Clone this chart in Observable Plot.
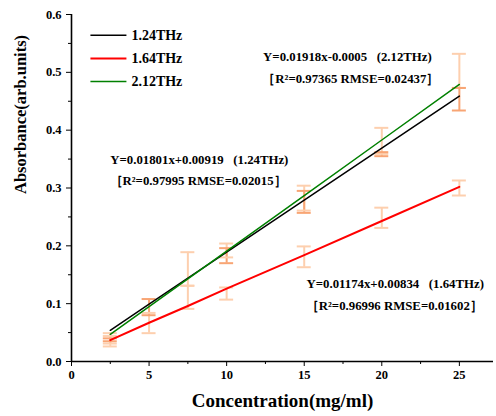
<!DOCTYPE html>
<html><head><meta charset="utf-8">
<script src="https://cdn.jsdelivr.net/npm/d3@7"></script>
<script src="https://cdn.jsdelivr.net/npm/@observablehq/plot@0.6"></script>
<style>
body{margin:0;background:#fff;}
svg{white-space:pre;}
</style></head><body><div id="chart"></div>
<script>
const concentration = [2.5, 5, 7.5, 10, 15, 20, 25];
const fit124 = [0.054, 0.099, 0.144, 0.189, 0.279, 0.369, 0.459];
const fit164 = [0.037, 0.067, 0.096, 0.126, 0.184, 0.243, 0.302];
const fit212 = [0.047, 0.095, 0.143, 0.191, 0.287, 0.383, 0.479];
const seriesNames = ["1.24THz", "1.64THz", "2.12THz"];
const seriesColors = ["#000000", "#ff0000", "#008000"];
const seriesWidths = [1.5, 2, 1.5];

// error bars: x, low, high, tone
const errX  = [2.5, 2.5, 2.5, 5, 5, 7.5, 7.5, 10, 10, 10, 15, 15, 15, 20, 20, 20, 25, 25, 25];
const errLo = [0.031, 0.026, 0.035, 0.049, 0.080, 0.131, 0.091, 0.180, 0.170, 0.107, 0.261, 0.257, 0.163, 0.359, 0.355, 0.231, 0.473, 0.434, 0.287];
const errHi = [0.049, 0.044, 0.040, 0.084, 0.108, 0.189, 0.131, 0.204, 0.196, 0.128, 0.304, 0.295, 0.199, 0.404, 0.362, 0.266, 0.532, 0.473, 0.313];
const errTone = ["light","light","dark","light","dark","light","light","light","dark","light","light","dark","light","light","dark","light","light","dark","light"];

const xTicks = [0, 5, 10, 15, 20, 25];
const xMinor = [2.5, 7.5, 12.5, 17.5, 22.5];
const yTicks = [0, 0.1, 0.2, 0.3, 0.4, 0.5, 0.6];
const yMinor = [0.05, 0.15, 0.25, 0.35, 0.45, 0.55];

const annoText = [
  "Y=0.01918x-0.0005   (2.12THz)", "［R²=0.97365 RMSE=0.02437］",
  "Y=0.01801x+0.00919   (1.24THz)", "［R²=0.97995 RMSE=0.02015］",
  "Y=0.01174x+0.00834   (1.64THz)", "［R²=0.96996 RMSE=0.01602］"
];
const annoX = [12.35, 12.3, 2.5, 2.45, 15.15, 15.1];
const annoY = [0.526, 0.488, 0.348, 0.313, 0.135, 0.097];

const legendY = [0.564, 0.524, 0.484];
const legendX1 = 1.22, legendX2 = 3.54, legendTextX = 3.86;

const lines = [];
[fit124, fit164, fit212].forEach((vals, s) => vals.forEach((v, i) => lines.push({series: seriesNames[s], x: concentration[i], y: v})));
const errs = errX.map((x, i) => ({x, lo: errLo[i], hi: errHi[i], tone: errTone[i]}));
const annos = annoText.map((t, i) => ({t, x: annoX[i], y: annoY[i]}));
const legend = seriesNames.map((n, i) => ({n, y: legendY[i], c: seriesColors[i], w: seriesWidths[i]}));
const toneColor = t => t === "light" ? "#fdcfae" : "#f8a574";
const capHalf = 0.45;

const font = "Liberation Serif, Times New Roman, serif";
const chart = Plot.plot({
  width: 496, height: 416,
  marginLeft: 71, marginRight: 3, marginTop: 14, marginBottom: 55,
  style: {fontFamily: font, fontWeight: "bold", fontSize: "12px", color: "#000", background: "#fff"},
  x: {domain: [0, 27.2]},
  y: {domain: [0, 0.6]},
  marks: [
    Plot.ruleX(errs, {x: "x", y1: "lo", y2: "hi", stroke: d => toneColor(d.tone), strokeWidth: 2}),
    Plot.ruleY(errs, {y: "lo", x1: d => d.x - capHalf, x2: d => d.x + capHalf, stroke: d => toneColor(d.tone), strokeWidth: 2}),
    Plot.ruleY(errs, {y: "hi", x1: d => d.x - capHalf, x2: d => d.x + capHalf, stroke: d => toneColor(d.tone), strokeWidth: 2}),
    ...seriesNames.map((n, s) => Plot.line(lines.filter(d => d.series === n), {x: "x", y: "y", stroke: seriesColors[s], strokeWidth: seriesWidths[s]})),
    Plot.axisX({ticks: xTicks, tickSize: 5, tickPadding: 4, tickFormat: d => String(d), fontSize: 12.5, fontWeight: "bold", label: null}),
    Plot.axisX({ticks: xMinor, tickSize: 3, tickFormat: () => "", label: null}),
    Plot.axisY({ticks: yTicks, tickSize: 5, tickPadding: 5, tickFormat: d => d.toFixed(1), fontSize: 12.5, fontWeight: "bold", label: null}),
    Plot.axisY({ticks: yMinor, tickSize: 3, tickFormat: () => "", label: null}),
    Plot.ruleX([0], {strokeWidth: 1.6}),
    Plot.ruleY([0], {strokeWidth: 1.6}),
    Plot.text(["Concentration(mg/ml)"], {frameAnchor: "bottom", dy: 45, fontSize: 19, fontWeight: "bold"}),
    Plot.text(["Absorbance(arb.units)"], {frameAnchor: "left", dx: -51, dy: 6, rotate: -90, fontSize: 16.5, fontWeight: "bold"}),
    Plot.link(legend, {x1: legendX1, x2: legendX2, y1: "y", y2: "y", stroke: d => d.c, strokeWidth: d => d.w}),
    Plot.text(legend, {x: legendTextX, y: "y", text: "n", textAnchor: "start", fontSize: 14, fontWeight: "bold"}),
    Plot.text(annos, {x: "x", y: "y", text: "t", textAnchor: "start", fontSize: 12.8, fontWeight: "bold"})
  ]
});
document.getElementById("chart").appendChild(chart);
</script></body></html>
